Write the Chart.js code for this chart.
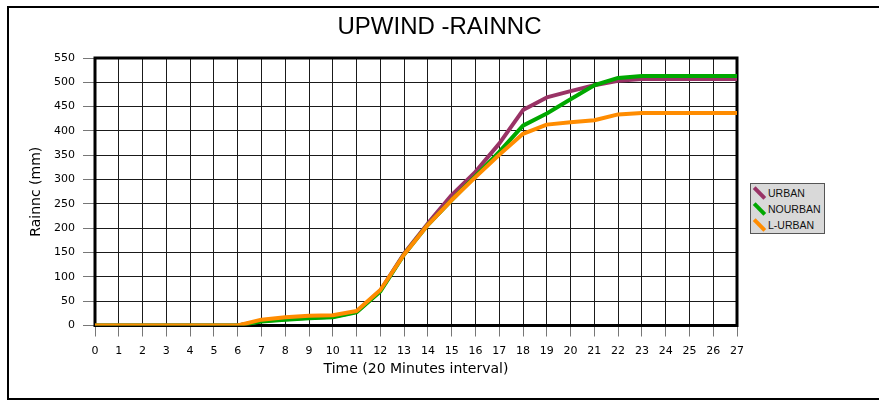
<!DOCTYPE html>
<html>
<head>
<meta charset="utf-8">
<script src="https://cdn.jsdelivr.net/npm/chart.js@4"></script>
<style>
html,body{margin:0;padding:0;background:#fff;}
#wrap{position:relative;width:879px;height:400px;overflow:hidden;}
#legend{position:absolute;left:750px;top:183px;width:73px;height:49px;background:#d9d9d9;border:1px solid #555;font-family:"Liberation Sans",Arial,sans-serif;font-size:10.5px;color:#111;}
.item{position:absolute;left:0;height:16px;width:73px;}
.sym{position:absolute;left:1px;top:5.5px;width:15px;height:4px;transform:rotate(45deg);}
.lbl{position:absolute;left:17px;top:0;line-height:16px;white-space:nowrap;}
</style>
</head>
<body>
<div id="wrap">
<canvas id="c" width="879" height="400"></canvas>
<div id="legend"></div>
</div>
<script>
const timeLabels = ['0','1','2','3','4','5','6','7','8','9','10','11','12','13','14','15','16','17','18','19','20','21','22','23','24','25','26','27'];
const urban   = [0,0,0,0,0,0,0,9,13,16,18,28,72,148,210,268,316,374,443,469,482,494,503,507,507,507,507,507];
const nourban = [0,0,0,0,0,0,0,8,12,15,17,27,70,146,207,258,307,357,411,436,465,494,509,513,513,513,513,513];
const lUrban  = [0,0,0,0,0,0,0,12,17,20,21,30,73,146,207,258,305,351,394,413,418,422,434,437,437,437,437,437];
const seriesNames = ['URBAN','NOURBAN','L-URBAN'];
const seriesColors = ['#993366','#00a800','#ff8c00'];
const yMin = 0, yMax = 550, yStep = 50;

const framePlugin = {
  id: 'frames',
  beforeDraw(chart){
    const c = chart.ctx;
    c.save();
    c.fillStyle = '#fff';
    c.fillRect(0,0,chart.width,chart.height);
    c.fillStyle = '#000';
    c.fillRect(7,6,chart.width-7,2);
    c.fillRect(7,6,2,394);
    c.fillRect(7,398,chart.width-7,2);
    c.restore();
  },
  beforeDatasetsDraw(chart){
    const c = chart.ctx;
    const {left,top,right,bottom} = chart.chartArea;
    c.save();
    c.lineWidth = 3;
    c.strokeStyle = '#000';
    c.strokeRect(left,top,right-left,bottom-top);
    c.restore();
  }
};

const seriesData = [urban, nourban, lUrban];
const datasets = seriesData.map((d,i)=>({
  label: seriesNames[i],
  data: d,
  borderColor: seriesColors[i],
  backgroundColor: seriesColors[i],
  borderWidth: 4,
  pointRadius: 0,
  pointHoverRadius: 0,
  tension: 0,
  fill: false,
  borderJoinStyle: 'round',
  order: 3 - i
}));

const chart = new Chart(document.getElementById('c'), {
  type: 'line',
  data: { labels: timeLabels, datasets },
  options: {
    responsive: false,
    animation: false,
    layout: { padding: 0 },
    plugins: {
      legend: { display: false },
      tooltip: { enabled: false },
      title: {
        display: true,
        text: 'UPWIND -RAINNC',
        color: '#000',
        font: { family: '"Liberation Sans", Arial, sans-serif', size: 24, weight: 'normal' },
        padding: { top: 13, bottom: 16.2 }
      }
    },
    scales: {
      x: {
        type: 'category',
        offset: false,
        grid: { color: '#1a1a1a', lineWidth: 1, tickLength: 11, tickColor: '#777' },
        border: { display: false },
        ticks: { color: '#000', font: { family: '"DejaVu Sans"', size: 11 }, padding: 8, maxRotation: 0, autoSkip: false },
        title: { display: true, text: 'Time (20 Minutes interval)', color: '#000', font: { family: '"DejaVu Sans"', size: 14 }, padding: { top: 0, bottom: 22 } },
        afterFit(s){ s.height = 74.5; }
      },
      y: {
        min: yMin, max: yMax,
        grid: { color: '#1a1a1a', lineWidth: 1, tickLength: 12, tickColor: '#777' },
        border: { display: false },
        ticks: { stepSize: yStep, color: '#000', font: { family: '"DejaVu Sans"', size: 11 }, padding: 8 },
        title: { display: true, text: 'Rainnc (mm)', color: '#000', font: { family: '"DejaVu Sans"', size: 14 }, padding: { top: 27.6, bottom: 0 } },
        afterFit(s){ s.width = 95; }
      },
      yRight: {
        position: 'right',
        display: true,
        grid: { display: false, drawTicks: false },
        border: { display: false },
        ticks: { display: false },
        afterFit(s){ s.width = 142; }
      }
    }
  },
  plugins: [framePlugin]
});

const leg = document.getElementById('legend');
chart.data.datasets.forEach((ds,i)=>{
  const it = document.createElement('div');
  it.className = 'item';
  it.style.top = (1 + i*16) + 'px';
  const s = document.createElement('span');
  s.className = 'sym';
  s.style.background = ds.borderColor;
  const l = document.createElement('span');
  l.className = 'lbl';
  l.textContent = ds.label;
  it.appendChild(s); it.appendChild(l);
  leg.appendChild(it);
});
</script>
</body>
</html>
